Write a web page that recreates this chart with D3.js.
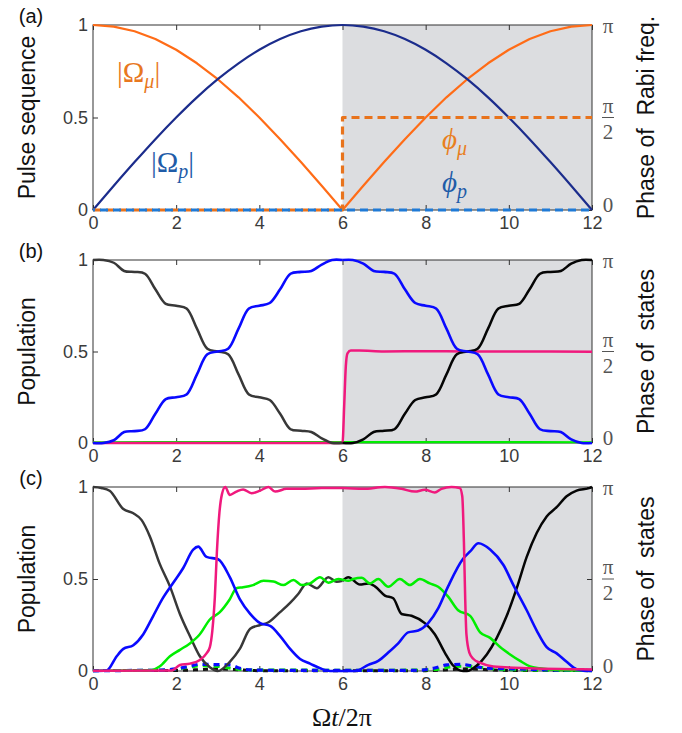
<!DOCTYPE html>
<html>
<head>
<meta charset="utf-8">
<script src="https://cdn.jsdelivr.net/npm/d3@7"></script>
<style>
body { margin: 0; background: #fff; }
text { font-family: "Liberation Sans", Arial, sans-serif; }
.serif { font-family: "Liberation Serif", "DejaVu Serif", serif; }
</style>
</head>
<body>
<svg id="chart" width="682" height="733"></svg>
<script>
// ---------- data ----------
const xTicks = [0, 2, 4, 6, 8, 10, 12];

// panel (a): pulse amplitudes and phases
const tA = [0, 0.5, 1, 1.5, 2, 2.5, 3, 3.5, 4, 4.5, 5, 5.5, 6, 6.5, 7, 7.5, 8, 8.5, 9, 9.5, 10, 10.5, 11, 11.5, 12];
const omegaMu = [1, 0.991, 0.966, 0.924, 0.866, 0.793, 0.707, 0.609, 0.5, 0.383, 0.259, 0.131, 0, 0.131, 0.259, 0.383, 0.5, 0.609, 0.707, 0.793, 0.866, 0.924, 0.966, 0.991, 1];
const omegaP = [0, 0.131, 0.259, 0.383, 0.5, 0.609, 0.707, 0.793, 0.866, 0.924, 0.966, 0.991, 1, 0.991, 0.966, 0.924, 0.866, 0.793, 0.707, 0.609, 0.5, 0.383, 0.259, 0.131, 0];
const phiMuT = [0, 6, 6, 12];
const phiMu = [0, 0, Math.PI / 2, Math.PI / 2];
const phiPT = [0, 12];
const phiP = [0, 0];

// panel (b)
const tBL = [0, 0.25, 0.5, 0.75, 1, 1.25, 1.5, 1.75, 2, 2.25, 2.5, 2.75, 3, 3.25, 3.5, 3.75, 4, 4.25, 4.5, 4.75, 5, 5.25, 5.5, 5.75, 6];
const tBR = [6, 6.25, 6.5, 6.75, 7, 7.25, 7.5, 7.75, 8, 8.25, 8.5, 8.75, 9, 9.25, 9.5, 9.75, 10, 10.25, 10.5, 10.75, 11, 11.25, 11.5, 11.75, 12];
const blackBL = [1, 1, 0.985, 0.94, 0.935, 0.925, 0.84, 0.76, 0.75, 0.735, 0.625, 0.515, 0.5, 0.485, 0.375, 0.265, 0.25, 0.235, 0.16, 0.075, 0.067, 0.06, 0.025, 0, 0];
const blackBR = [0, 0, 0.02, 0.06, 0.067, 0.075, 0.16, 0.235, 0.25, 0.265, 0.375, 0.485, 0.5, 0.515, 0.625, 0.735, 0.75, 0.76, 0.84, 0.925, 0.935, 0.94, 0.98, 1, 1];
const blueBL = [0, 0, 0.015, 0.06, 0.065, 0.075, 0.16, 0.24, 0.25, 0.265, 0.375, 0.485, 0.5, 0.515, 0.625, 0.735, 0.75, 0.765, 0.84, 0.925, 0.935, 0.94, 0.975, 1, 1];
const blueBR = [1, 1, 0.98, 0.94, 0.935, 0.925, 0.84, 0.765, 0.75, 0.735, 0.625, 0.515, 0.5, 0.485, 0.375, 0.265, 0.25, 0.24, 0.16, 0.075, 0.065, 0.06, 0.02, 0, 0];
const pinkBT = [0, 6.0, 6.04, 6.08, 6.12, 6.2, 6.4, 7, 8, 9, 10, 11, 12];
const pinkB = [0, 0, 0.2, 0.42, 0.49, 0.505, 0.505, 0.5, 0.502, 0.5, 0.5, 0.5, 0.498];
const greenBT = [0, 3, 6, 9, 12];
const greenB = [0.004, 0.005, 0.005, 0.005, 0.004];

// panel (c)
const blackCLT = [0, 0.2, 0.4, 0.73, 0.97, 1.17, 1.37, 1.6, 1.85, 2.09, 2.33, 2.57, 2.81, 3.0, 3.29, 3.53, 3.78, 4.02, 4.22, 4.5, 4.74, 4.94, 5.14, 5.38, 5.66, 5.86, 6.0];
const blackCL = [1, 0.995, 0.98, 0.88, 0.857, 0.82, 0.73, 0.585, 0.46, 0.31, 0.19, 0.08, 0.02, 0, 0.05, 0.12, 0.23, 0.25, 0.265, 0.32, 0.37, 0.42, 0.476, 0.45, 0.51, 0.485, 0.49];
const blackCRT = [6.0, 6.14, 6.42, 6.62, 6.78, 7.02, 7.22, 7.42, 7.66, 7.98, 8.22, 8.46, 8.66, 8.9, 8.99, 9.23, 9.47, 9.71, 9.95, 10.19, 10.43, 10.67, 10.91, 11.15, 11.39, 11.63, 11.95, 12];
const blackCR = [0.49, 0.51, 0.47, 0.476, 0.46, 0.41, 0.395, 0.31, 0.30, 0.26, 0.2, 0.1, 0.03, 0, 0, 0.03, 0.09, 0.18, 0.3, 0.45, 0.62, 0.75, 0.84, 0.89, 0.95, 0.98, 0.995, 1];
const blueCT = [0, 0.33, 0.57, 0.73, 0.97, 1.21, 1.45, 1.69, 1.93, 2.17, 2.41, 2.53, 2.73, 3.01, 3.29, 3.53, 3.78, 4.02, 4.26, 4.5, 4.74, 4.98, 5.22, 5.46, 5.7, 6.3, 6.62, 6.86, 7.1, 7.34, 7.58, 7.82, 8.06, 8.3, 8.54, 8.9, 9.07, 9.27, 9.55, 9.87, 10.11, 10.43, 10.67, 10.91, 11.15, 11.39, 11.63, 11.95, 12];
const blueC = [0, 0.003, 0.08, 0.12, 0.14, 0.2, 0.3, 0.4, 0.48, 0.56, 0.66, 0.676, 0.62, 0.607, 0.51, 0.39, 0.31, 0.26, 0.245, 0.19, 0.12, 0.065, 0.04, 0.015, 0, 0, 0.033, 0.055, 0.1, 0.15, 0.21, 0.22, 0.26, 0.34, 0.46, 0.61, 0.65, 0.694, 0.66, 0.576, 0.467, 0.33, 0.22, 0.13, 0.096, 0.05, 0.01, 0, 0];
const greenCT = [0, 1.37, 1.6, 1.85, 2.09, 2.33, 2.57, 2.81, 3.05, 3.29, 3.45, 3.61, 3.85, 4.1, 4.34, 4.58, 4.82, 5.02, 5.22, 5.46, 5.66, 5.9, 6.14, 6.26, 6.46, 6.66, 6.86, 7.1, 7.38, 7.62, 7.86, 8.1, 8.3, 8.54, 8.78, 9.07, 9.31, 9.55, 9.79, 10.03, 10.27, 10.51, 10.75, 11.23, 12];
const greenC = [0.002, 0.003, 0.024, 0.08, 0.115, 0.15, 0.2, 0.28, 0.32, 0.39, 0.45, 0.455, 0.467, 0.49, 0.486, 0.467, 0.495, 0.467, 0.476, 0.51, 0.48, 0.5, 0.49, 0.5, 0.507, 0.476, 0.5, 0.458, 0.5, 0.467, 0.5, 0.476, 0.458, 0.404, 0.33, 0.30, 0.21, 0.18, 0.13, 0.09, 0.055, 0.025, 0.015, 0.005, 0.002];
const pinkCT = [0, 1.9, 2.09, 2.33, 2.57, 2.73, 2.81, 2.87, 2.93, 2.98, 3.04, 3.1, 3.18, 3.29, 3.45, 3.61, 3.81, 4.02, 4.22, 4.38, 4.66, 5.0, 5.5, 6, 6.5, 7.02, 7.42, 7.74, 7.98, 8.22, 8.38, 8.62, 8.82, 8.88, 8.92, 8.95, 8.98, 9.05, 9.15, 9.3, 9.63, 10.5, 11.5, 12];
const pinkC = [0.002, 0.003, 0.033, 0.04, 0.06, 0.096, 0.13, 0.22, 0.4, 0.65, 0.86, 0.96, 1.0, 0.957, 0.975, 0.987, 0.966, 0.98, 1.0, 0.975, 0.99, 0.99, 0.995, 0.995, 0.99, 1.0, 0.99, 0.975, 0.985, 0.97, 0.99, 1.0, 0.995, 0.95, 0.7, 0.4, 0.2, 0.1, 0.065, 0.045, 0.025, 0.015, 0.01, 0.008];
const blueDotCT = [0, 1.5, 2.0, 2.3, 2.57, 2.89, 3.29, 3.53, 3.77, 4.2, 5, 6, 7, 7.8, 8.19, 8.51, 8.83, 9.15, 9.47, 10.1, 11, 12];
const blueDotC = [0.002, 0.004, 0.012, 0.025, 0.036, 0.035, 0.033, 0.015, 0.006, 0.004, 0.003, 0.003, 0.003, 0.004, 0.015, 0.033, 0.036, 0.027, 0.015, 0.012, 0.006, 0.003];
const greenDashCT = [0, 1.8, 2.3, 2.6, 3.0, 3.4, 3.8, 5, 7, 8.2, 8.6, 9.0, 9.4, 9.8, 12];
const greenDashC = [0.002, 0.005, 0.02, 0.028, 0.025, 0.012, 0.006, 0.005, 0.004, 0.008, 0.022, 0.026, 0.018, 0.008, 0.002];
const blackDashCT = [0, 2, 2.6, 3.0, 3.4, 4, 8, 8.6, 9.0, 9.4, 10, 12];
const blackDashC = [0.003, 0.003, 0.008, 0.012, 0.008, 0.002, 0.002, 0.008, 0.012, 0.008, 0.003, 0.002];

// ---------- drawing ----------
const svg = d3.select('#chart');
const x = d3.scaleLinear().domain([0, 12]).range([93, 592]);
const tickColor = '#3b3b3b';

function makePanel(top, bottom, letter, leftTitle, rightTitle) {
	const y = d3.scaleLinear().domain([0, 1]).range([bottom, top]);
	const yR = d3.scaleLinear().domain([0, Math.PI]).range([bottom, top]);
	const g = svg.append('g');

	// shaded second half
	g.append('rect')
		.attr('x', x(6)).attr('y', top)
		.attr('width', x(12) - x(6)).attr('height', bottom - top)
		.attr('fill', '#dcdde0');

	const styleAxis = sel => {
		sel.select('.domain').remove();
		sel.selectAll('line').attr('stroke', '#333');
		sel.selectAll('text').attr('fill', tickColor).style('font-size', '18px')
			.style('font-family', '"Liberation Sans", Arial, sans-serif');
	};

	g.append('g').attr('transform', `translate(0,${bottom})`)
		.call(d3.axisBottom(x).tickValues(xTicks).tickSize(-5).tickPadding(6))
		.call(styleAxis);
	g.append('g').attr('transform', `translate(0,${top})`)
		.call(d3.axisTop(x).tickValues(xTicks).tickSize(-5).tickFormat(''))
		.call(styleAxis);
	g.append('g').attr('transform', `translate(${x(0)},0)`)
		.call(d3.axisLeft(y).tickValues([0, 0.5, 1]).tickSize(-5).tickPadding(5).tickFormat(d3.format('')))
		.call(styleAxis);
	g.append('g').attr('transform', `translate(${x(12)},0)`)
		.call(d3.axisRight(yR).tickValues([0, Math.PI / 2, Math.PI]).tickSize(-5).tickFormat(''))
		.call(styleAxis);

	// right (phase) labels
	const rx = x(12) + 10;
	const rlab = g.append('g').attr('class', 'serif').attr('fill', '#555').style('font-size', '21px');
	rlab.append('text').attr('class', 'serif').attr('x', rx + 6).attr('y', yR(Math.PI) + 1)
		.attr('text-anchor', 'middle').attr('dominant-baseline', 'central').text('π');
	rlab.append('text').attr('class', 'serif').attr('x', rx + 6).attr('y', yR(Math.PI / 2) - 12)
		.attr('text-anchor', 'middle').attr('dominant-baseline', 'central').text('π');
	rlab.append('line').attr('x1', rx).attr('x2', rx + 12)
		.attr('y1', yR(Math.PI / 2)).attr('y2', yR(Math.PI / 2))
		.attr('stroke', '#555').attr('stroke-width', 1);
	rlab.append('text').attr('class', 'serif').attr('x', rx + 6).attr('y', yR(Math.PI / 2) + 14)
		.attr('text-anchor', 'middle').attr('dominant-baseline', 'central').text('2');
	rlab.append('text').attr('class', 'serif').attr('x', rx + 6).attr('y', yR(0) - 5)
		.attr('text-anchor', 'middle').attr('dominant-baseline', 'central').text('0');

	// frame
	g.append('rect')
		.attr('x', x(0)).attr('y', top)
		.attr('width', x(12) - x(0)).attr('height', bottom - top)
		.attr('fill', 'none').attr('stroke', '#333').attr('stroke-width', 1);

	// titles
	const mid = (top + bottom) / 2;
	g.append('text')
		.attr('transform', `translate(27,${mid}) rotate(-90)`)
		.attr('text-anchor', 'middle').attr('dominant-baseline', 'central')
		.style('font-size', '23px').attr('fill', '#111').text(leftTitle);
	g.append('text')
		.attr('transform', `translate(646,${mid}) rotate(-90)`)
		.attr('text-anchor', 'middle').attr('dominant-baseline', 'central')
		.style('font-size', '23px').attr('fill', '#111')
		.attr('xml:space', 'preserve').style('white-space', 'pre').text(rightTitle);
	g.append('text')
		.attr('x', 31).attr('y', top - 9)
		.attr('text-anchor', 'middle').attr('dominant-baseline', 'central')
		.style('font-size', '20px').attr('fill', '#111').text(letter);

	return { g, y, yR };
}

function drawLine(p, ts, vs, scale, color, width, dash, curve) {
	const pts = ts.map((t, i) => [t, vs[i]]);
	const line = d3.line()
		.x(d => x(d[0]))
		.y(d => scale(d[1]))
		.curve(curve || d3.curveMonotoneX);
	const path = p.g.append('path')
		.datum(pts)
		.attr('d', line)
		.attr('fill', 'none')
		.attr('stroke', color)
		.attr('stroke-width', width)
		.attr('stroke-linejoin', 'round');
	if (dash) path.attr('stroke-dasharray', dash);
	return path;
}

// ----- panel (a)
const pa = makePanel(25, 210, '(a)', 'Pulse sequence', 'Phase of  Rabi freq.');
drawLine(pa, tA, omegaMu, pa.y, '#ff6c17', 2.2, null, d3.curveLinear);
drawLine(pa, tA, omegaP, pa.y, '#1b2c8c', 2.2);
drawLine(pa, phiMuT, phiMu, pa.yR, '#e8731c', 3.2, '8,5', d3.curveLinear);
drawLine(pa, phiPT, phiP, pa.yR, '#1f7ad6', 3.2, '8,5', d3.curveLinear).attr('stroke-dashoffset', 6);

function mathLabel(p, xx, yy, main, sub, color, bars) {
	const t = p.g.append('text').attr('class', 'serif')
		.attr('x', xx).attr('y', yy).attr('fill', color).style('font-size', '29px');
	t.append('tspan').text((bars ? '|' : '') + main)
		.style('font-style', bars ? 'normal' : 'italic');
	t.append('tspan').text(sub).style('font-style', 'italic').style('font-size', '20px').attr('dy', 6);
	if (bars) t.append('tspan').text('|').attr('dy', -6);
}
mathLabel(pa, 117, 82, 'Ω', 'μ', '#e8781f', true);
mathLabel(pa, 151, 172, 'Ω', 'p', '#1f5ca8', true);
mathLabel(pa, 442, 149, 'ϕ', 'μ', '#e8801f', false);
mathLabel(pa, 442, 192, 'ϕ', 'p', '#1f5ca8', false);

// ----- panel (b)
const pb = makePanel(260, 443, '(b)', 'Population', 'Phase of  states');
drawLine(pb, greenBT, greenB, pb.y, '#00ee00', 2.2);
drawLine(pb, pinkBT, pinkB, pb.y, '#f0197d', 2.5);
drawLine(pb, tBL, blackBL, pb.y, '#383838', 2.5, null, d3.curveCatmullRom);
drawLine(pb, tBR, blackBR, pb.y, '#050505', 2.5, null, d3.curveCatmullRom);
drawLine(pb, tBL, blueBL, pb.y, '#0a0aff', 2.6, null, d3.curveCatmullRom);
drawLine(pb, tBR, blueBR, pb.y, '#0a0aff', 2.6, null, d3.curveCatmullRom);

// ----- panel (c)
const pc = makePanel(487, 671, '(c)', 'Population', 'Phase of  states');
drawLine(pc, blackDashCT, blackDashC, pc.y, '#111', 3, '5,5');
drawLine(pc, greenDashCT, greenDashC, pc.y, '#00ee00', 3, '6,5');
drawLine(pc, blueDotCT, blueDotC, pc.y, '#0a0aff', 3.2, '6,5');
drawLine(pc, blackCLT, blackCL, pc.y, '#383838', 2.5);
drawLine(pc, blackCRT, blackCR, pc.y, '#050505', 2.5);
drawLine(pc, greenCT, greenC, pc.y, '#00ee00', 2.5);
drawLine(pc, blueCT, blueC, pc.y, '#0a0aff', 2.6);
drawLine(pc, pinkCT, pinkC, pc.y, '#f0197d', 2.5);

// x-axis title
const xt = svg.append('text').attr('class', 'serif')
	.attr('x', 342).attr('y', 726).attr('text-anchor', 'middle')
	.attr('fill', '#111').style('font-size', '26px');
xt.append('tspan').text('Ω');
xt.append('tspan').text('t').style('font-style', 'italic');
xt.append('tspan').text('/2π');
</script>
</body>
</html>
